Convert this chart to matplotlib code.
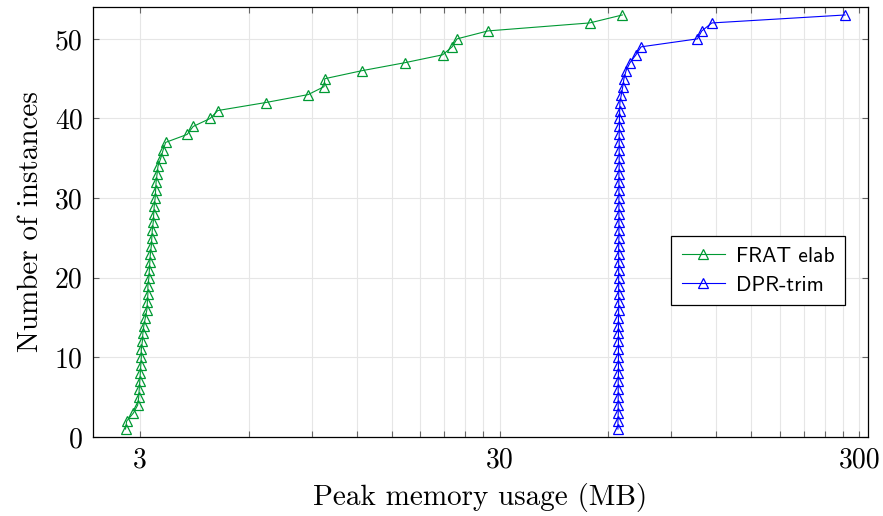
import matplotlib
matplotlib.use('Agg')
import matplotlib.pyplot as plt
import numpy as np

# instances solved (cumulative count) vs peak memory (MB)
instances = list(range(1, 54))

frat_mem = [2.73, 2.75, 2.87, 2.95, 2.97, 2.98, 2.99, 3.00, 3.01, 3.02,
            3.02, 3.04, 3.05, 3.07, 3.10, 3.13, 3.14, 3.15, 3.15, 3.17,
            3.18, 3.19, 3.20, 3.22, 3.23, 3.24, 3.26, 3.27, 3.28, 3.30,
            3.31, 3.32, 3.34, 3.36, 3.42, 3.47, 3.53, 4.05, 4.21, 4.69,
            4.93, 6.69, 8.79, 9.73, 9.78, 12.39, 16.3, 20.8, 22.1, 22.8,
            27.8, 53.3, 65.7]

dpr_mem = [63.9, 63.9, 64.0, 64.0, 64.0, 64.0, 64.0, 64.1, 64.1, 64.1,
           64.1, 64.1, 64.1, 64.1, 64.1, 64.2, 64.2, 64.2, 64.2, 64.2,
           64.2, 64.2, 64.2, 64.2, 64.3, 64.3, 64.3, 64.3, 64.3, 64.3,
           64.3, 64.3, 64.3, 64.4, 64.4, 64.4, 64.4, 64.4, 64.5, 64.5,
           64.6, 64.7, 65.3, 65.9, 66.4, 67.3, 69.0, 71.7, 74.1, 106.3,
           109.3, 116.6, 273.6]

x_major = [3, 30, 300]
x_minor = [6, 9, 12, 15, 18, 21, 24, 27, 60, 90, 120, 150, 180, 210, 240, 270]
y_ticks = [0, 10, 20, 30, 40, 50]

plt.rcParams['font.family'] = 'cmr10'
plt.rcParams['axes.formatter.use_mathtext'] = True

fig = plt.figure(figsize=(8.83, 5.16), dpi=100)
ax = fig.add_axes([0.1048, 0.1531, 0.8783, 0.8333])

ax.plot(frat_mem, instances, color='#009933', lw=0.8, marker='^', ms=7,
        mfc='none', mec='#009933', mew=0.9, label='FRAT elab', zorder=3)
ax.plot(dpr_mem, instances, color='#0000ff', lw=0.8, marker='^', ms=7,
        mfc='none', mec='#0000ff', mew=0.9, label='DPR-trim', zorder=3)

ax.set_xscale('log')
ax.set_xlim(2.21, 317)
ax.set_ylim(0, 54)
ax.set_xticks(x_major)
ax.set_xticklabels([str(v) for v in x_major])
ax.set_xticks(x_minor, minor=True)
ax.set_xticklabels([], minor=True)
ax.set_yticks(y_ticks)
ax.set_yticklabels([str(v) for v in y_ticks])

ax.grid(True, which='both', axis='x', color='#e6e6e6', lw=0.8, zorder=0)
ax.grid(True, which='major', axis='y', color='#e6e6e6', lw=0.8, zorder=0)
ax.set_axisbelow(True)

ax.tick_params(which='both', direction='in', top=True, right=True,
               length=4.5, width=0.8, color='#666666', labelsize=20, pad=7)
for s in ax.spines.values():
    s.set_linewidth(0.9)

ax.set_xlabel('Peak memory usage (MB)', fontsize=21, labelpad=7)
ax.set_ylabel('Number of instances', fontsize=21, labelpad=8)

leg = ax.legend(loc='upper left', bbox_to_anchor=(0.746, 0.4674),
                borderaxespad=0,
                prop={'family': 'cmss10', 'size': 15.5}, fancybox=False,
                edgecolor='black', framealpha=1, borderpad=0.5,
                handlelength=2.0, handletextpad=0.5, labelspacing=0.45)
leg.get_frame().set_linewidth(0.9)

fig.savefig('out.png', dpi=100)
